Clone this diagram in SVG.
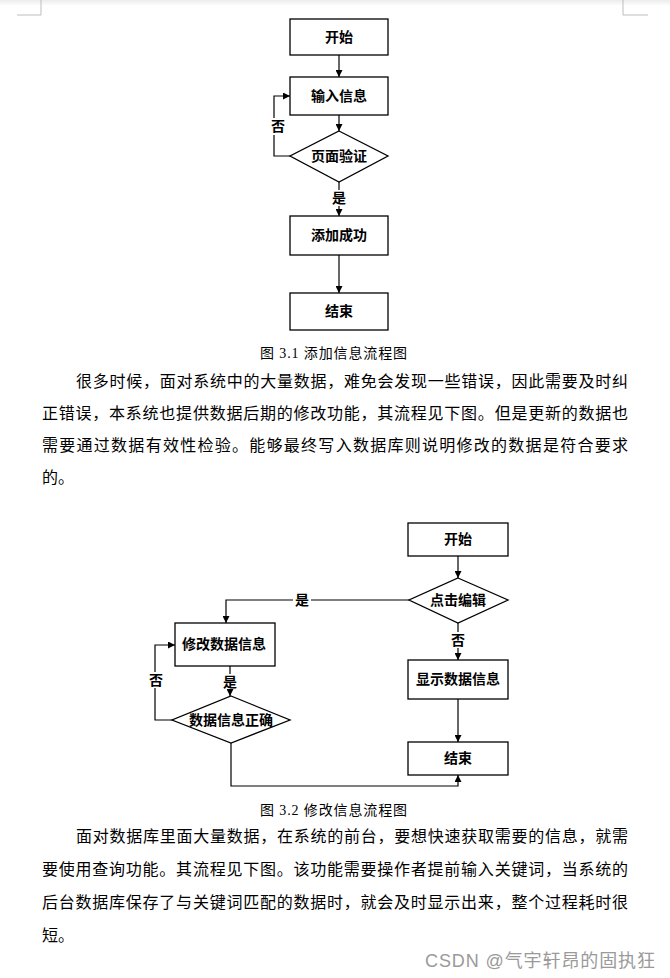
<svg xmlns="http://www.w3.org/2000/svg" width="670" height="978" viewBox="0 0 670 978">
<defs>
<linearGradient id="topg" x1="0" y1="0" x2="0" y2="1"><stop offset="0" stop-color="#ececec"/><stop offset="1" stop-color="#ffffff"/></linearGradient>
<marker id="ah" viewBox="0 0 10 10" refX="10" refY="5" markerWidth="7" markerHeight="7" markerUnits="userSpaceOnUse" orient="auto"><path d="M0,0 L10,5 L0,10 z" fill="#000"/></marker>
</defs>
<style>
.box{fill:#fff;stroke:#000;stroke-width:1.3}
.ar{fill:none;stroke:#000;stroke-width:1.2;marker-end:url(#ah)}
.nt{font-family:"Liberation Serif","Noto Sans CJK SC",serif;font-weight:bold;font-size:14px;text-anchor:middle;dominant-baseline:central;fill:#000}
.lb{font-family:"Liberation Serif","Noto Sans CJK SC",serif;font-weight:bold;font-size:14px;text-anchor:middle;dominant-baseline:central;fill:#000}
.cap{font-family:"Liberation Serif","Noto Sans CJK SC",sans-serif;font-size:14px;fill:#000}
.p{font-family:"Noto Sans CJK SC",sans-serif;font-size:16px;fill:#000}
.wm{font-family:"Liberation Sans","Noto Sans CJK SC",sans-serif;font-size:18px;fill:#9a9a9a}
</style>
<rect x="0" y="0" width="670" height="978" fill="#fff"/>
<rect x="0" y="0" width="670" height="6" fill="url(#topg)"/>
<path d="M41,0 V15 H17 M623,0 V15 H648" fill="none" stroke="#bdbdbd" stroke-width="1"/>

<g id="connectors">
<line class="ar" x1="339" y1="55" x2="339" y2="77"/>
<line class="ar" x1="339" y1="115" x2="339" y2="131"/>
<polyline class="ar" points="290,156 274,156 274,96 290,96"/>
<line class="ar" x1="339" y1="182" x2="339" y2="216"/>
<line class="ar" x1="339" y1="255" x2="339" y2="293"/>

<line class="ar" x1="458" y1="556" x2="458" y2="578"/>
<polyline class="ar" points="409,600 226,600 226,623"/>
<line class="ar" x1="458" y1="623" x2="458" y2="660"/>
<line class="ar" x1="458" y1="699" x2="458" y2="742"/>
<line class="ar" x1="230" y1="666" x2="230" y2="696"/>
<polyline class="ar" points="172,720 155,720 155,645 175,645"/>
<polyline class="ar" points="231,743 231,786 458,786 458,775"/>
</g>

<g id="labels">
<rect x="270" y="118" width="16" height="17" fill="#fff"/>
<text class="lb" x="278" y="126">否</text>
<rect x="331" y="190" width="16" height="16" fill="#fff"/>
<text class="lb" x="339" y="198">是</text>
<rect x="293" y="592" width="18" height="16" fill="#fff"/>
<text class="lb" x="302" y="600">是</text>
<rect x="450" y="632" width="16" height="16" fill="#fff"/>
<text class="lb" x="458" y="640">否</text>
<rect x="222" y="674" width="16" height="15" fill="#fff"/>
<text class="lb" x="230" y="682">是</text>
<rect x="147" y="672" width="16" height="16" fill="#fff"/>
<text class="lb" x="156" y="680">否</text>
</g>

<g id="n1"><rect class="box" x="290" y="19" width="98" height="36"/><text class="nt" x="339" y="37">开始</text></g>
<g id="n2"><rect class="box" x="290" y="77" width="98" height="38"/><text class="nt" x="339" y="96">输入信息</text></g>
<g id="n3"><polygon class="box" points="339,131 388,156 339,182 290,156"/><text class="nt" x="339" y="156">页面验证</text></g>
<g id="n4"><rect class="box" x="290" y="216" width="98" height="39"/><text class="nt" x="339" y="235">添加成功</text></g>
<g id="n5"><rect class="box" x="290" y="293" width="98" height="37"/><text class="nt" x="339" y="311">结束</text></g>

<g id="m1"><rect class="box" x="408" y="523" width="100" height="33"/><text class="nt" x="458" y="539">开始</text></g>
<g id="m2"><polygon class="box" points="458,578 508,600 458,623 409,600"/><text class="nt" x="458" y="600">点击编辑</text></g>
<g id="m3"><rect class="box" x="175" y="623" width="100" height="43"/><text class="nt" x="224" y="644">修改数据信息</text></g>
<g id="m4"><polygon class="box" points="231,696 290,720 231,743 172,720"/><text class="nt" x="231" y="720">数据信息正确</text></g>
<g id="m5"><rect class="box" x="408" y="660" width="100" height="39"/><text class="nt" x="458" y="679">显示数据信息</text></g>
<g id="m6"><rect class="box" x="408" y="742" width="100" height="33"/><text class="nt" x="458" y="758">结束</text></g>

<text class="cap" x="260" y="358" textLength="147" lengthAdjust="spacing">图 3.1  添加信息流程图</text>
<text class="p" x="76" y="387" textLength="552" lengthAdjust="spacing">很多时候，面对系统中的大量数据，难免会发现一些错误，因此需要及时纠</text>
<text class="p" x="42" y="419" textLength="586" lengthAdjust="spacing">正错误，本系统也提供数据后期的修改功能，其流程见下图。但是更新的数据也</text>
<text class="p" x="42" y="451" textLength="586" lengthAdjust="spacing">需要通过数据有效性检验。能够最终写入数据库则说明修改的数据是符合要求</text>
<text class="p" x="42" y="483">的。</text>

<text class="cap" x="260" y="815" textLength="147" lengthAdjust="spacing">图 3.2  修改信息流程图</text>
<text class="p" x="76" y="842" textLength="552" lengthAdjust="spacing">面对数据库里面大量数据，在系统的前台，要想快速获取需要的信息，就需</text>
<text class="p" x="42" y="875" textLength="586" lengthAdjust="spacing">要使用查询功能。其流程见下图。该功能需要操作者提前输入关键词，当系统的</text>
<text class="p" x="42" y="908" textLength="586" lengthAdjust="spacing">后台数据库保存了与关键词匹配的数据时，就会及时显示出来，整个过程耗时很</text>
<text class="p" x="42" y="941">短。</text>

<text class="wm" x="425" y="967" textLength="230" lengthAdjust="spacing">CSDN @气宇轩昂的固执狂</text>
</svg>
